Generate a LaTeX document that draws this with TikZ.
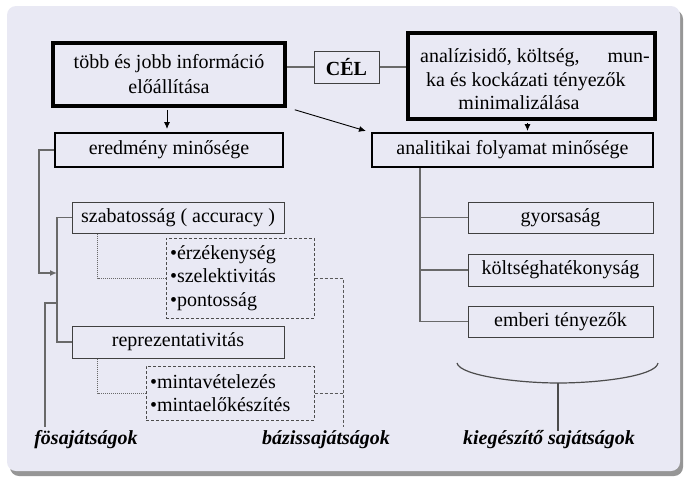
\documentclass[tikz,border=0pt]{standalone}
\usepackage{fontspec}
\setmainfont{Liberation Serif}
\usetikzlibrary{arrows.meta,calc}
\definecolor{panel}{RGB}{233,233,244}
\definecolor{connc}{RGB}{105,105,105}
\definecolor{shadowc}{RGB}{150,150,150}
\begin{document}
\begin{tikzpicture}[x=1pt,y=-1pt,
  every node/.style={font=\fontsize{20}{25}\selectfont, inner sep=0pt},
  thickbox/.style={draw=black, line width=3.5pt},
  midbox/.style={draw=black, line width=2pt},
  smallbox/.style={draw=black!75, line width=1pt},
  dashbox/.style={draw=black!70, line width=1pt, dash pattern=on 3pt off 2pt, align=left, inner sep=4pt, font=\fontsize{20}{23.5}\selectfont},
  conn/.style={draw=connc, line width=1.3pt},
  dotln/.style={draw=connc, line width=0.8pt, dash pattern=on 1pt off 1pt},
  dashln/.style={draw=black!65, line width=1pt, dash pattern=on 3pt off 2pt},
  arr/.style={draw=black, line width=0.9pt, -{Latex[length=7pt,width=6pt]}},
  lab/.style={font=\fontsize{20}{25}\selectfont\bfseries\itshape}]
\useasboundingbox (0,0) rectangle (686,482);
\fill[shadowc, rounded corners=9pt] (10,10) rectangle (683,476);
\fill[panel, rounded corners=9pt] (7,6) rectangle (680,471);

% top row
\node[thickbox, minimum width=232pt, minimum height=63pt, align=center] (info) at (169,74.5) {több és jobb információ\\előállítása};
\node[smallbox, minimum width=65pt, minimum height=32pt, font=\fontsize{20}{25}\selectfont\bfseries] (cel) at (346.5,67) {CÉL};
\node[thickbox, minimum width=247pt, minimum height=86pt] (mini) at (531.5,76) {};
\node[anchor=base west] (m1) at (420,62) {analízisidő, költség,};
\node[anchor=base east] (m2) at (650,62) {mun-};
\node[anchor=base west] (m3) at (426,86) {ka és kockázati tényezők};
\node[anchor=base] (m4) at (519,109) {minimalizálása};

% second row
\node[midbox, minimum width=228pt, minimum height=34pt] (eredm) at (169,150) {eredmény minősége};
\node[midbox, minimum width=281pt, minimum height=34pt] (folyam) at (512.5,150) {analitikai folyamat minősége};

% left tree
\node[smallbox, minimum width=212pt, minimum height=31pt] (acc) at (178,217.5) {szabatosság ( accuracy )};
\node[dashbox, text width=140pt, minimum height=80pt] (d1) at (240,278) {•érzékenység\\•szelektivitás\\•pontosság};
\node[smallbox, minimum width=212pt, minimum height=32pt] (rep) at (178,342) {reprezentativitás};
\node[dashbox, text width=160pt, minimum height=54pt] (d2) at (230,393) {•mintavételezés\\•mintaelőkészítés};

% right tree
\node[smallbox, minimum width=185pt, minimum height=31pt] (gy) at (560.5,217.5) {gyorsaság};
\node[smallbox, minimum width=185pt, minimum height=32pt] (ko) at (560.5,270) {költséghatékonyság};
\node[smallbox, minimum width=185pt, minimum height=31pt] (emb) at (560.5,321.5) {emberi tényezők};

% labels
\node[lab] (fo) at (86,440) {fösajátságok};
\node[lab] (baz) at (326,440) {bázissajátságok};
\node[lab] (kieg) at (549,440) {kiegészítő sajátságok};

% top connectors
\draw[conn] (cel.west) -- (cel.west -| info.east);
\draw[conn] (cel.east) -- (cel.east -| mini.west);
\coordinate (a1) at ($(info.south)+(-2,0)$);
\draw[arr, shorten <=2pt, shorten >=3pt] (a1) -- (a1 |- eredm.north);
\draw[arr] ($(info.south east)+(8,2)$) -- ($(folyam.north west)+(-5,-1)$);
\coordinate (a2) at ($(mini.south)+(-4,0)$);
\draw[arr, shorten <=2pt, shorten >=1pt] (a2) -- (a2 |- folyam.north);

% left tree connectors
\coordinate (ltr) at (57,273);
\coordinate (ttop) at (57,217.5);
\coordinate (tbot) at (57,342);
\draw[conn] (acc.west) -- (ttop) -- (tbot) -- (rep.west);
\draw[conn, -{Latex[length=7pt,width=6pt]}] (eredm.west) -- ++(-15,0) |- (ltr);
\coordinate (fj) at (57,303);
\coordinate (fl) at ($(fo.north west)+(11,-4)$);
\draw[conn] (fl) |- (fj);
\coordinate (ad) at ($(acc.south west)+(26,0)$);
\draw[dotln] (ad) |- (d1.west);
\coordinate (rd) at ($(rep.south west)+(26,0)$);
\draw[dotln] (rd) |- (d2.west);
\coordinate (bzt) at ($(baz.north)+(17,-4)$);
\draw[dashln] (d1.east) -| (bzt);
\draw[dashln] (d2.east) -- (d2.east -| bzt);

% right tree connectors
\coordinate (rt) at (420,321.5);
\draw[conn] (folyam.south -| rt) -- (rt) -- (emb.west);
\draw[conn] (gy.west) -- (gy.west -| rt);
\draw[conn] (ko.west) -- (ko.west -| rt);

% brace
\coordinate (bl) at (457,363);
\coordinate (bm) at (558,383);
\coordinate (br) at (658,363);
\draw[draw=black!70, line width=1.2pt] (bl) .. controls (460,376) and (520,383) .. (bm) .. controls (600,383) and (656,376) .. (br);
\draw[draw=black!70, line width=1.2pt] (bm) -- (bm |- kieg.north);
\end{tikzpicture}
\end{document}
